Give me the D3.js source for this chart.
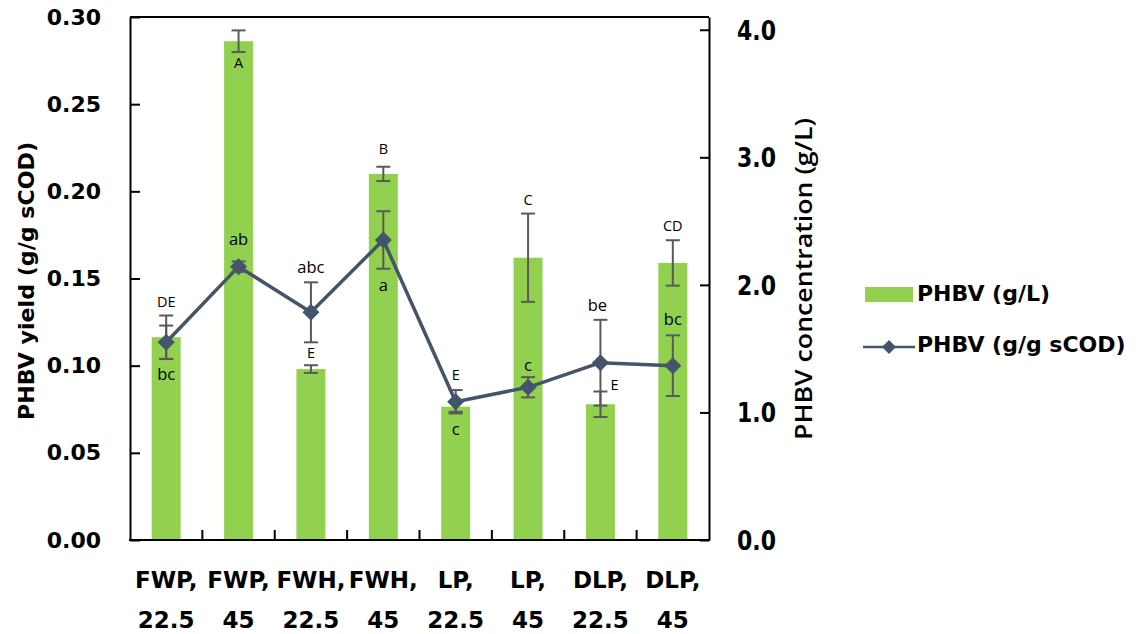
<!DOCTYPE html>
<html>
<head>
<meta charset="utf-8">
<script src="https://cdn.jsdelivr.net/npm/d3@7"></script>
<style>
  body { margin: 0; background: #fff; }
  svg text { fill: #000; }
</style>
</head>
<body>
<div id="chart"></div>
<script>
// categories and values
const categories = ['FWP, 22.5', 'FWP, 45', 'FWH, 22.5', 'FWH, 45', 'LP, 22.5', 'LP, 45', 'DLP, 22.5', 'DLP, 45'];
const concGL    = [1.59, 3.91, 1.34, 2.87, 1.045, 2.213, 1.064, 2.172];   // PHBV (g/L), right axis
const concErr   = [0.17, 0.085, 0.03, 0.056, 0.04, 0.346, 0.10, 0.178];
const yieldCOD  = [0.1134, 0.1568, 0.1306, 0.1721, 0.0793, 0.0876, 0.1017, 0.1000]; // PHBV (g/g sCOD), left axis
const yieldErr  = [0.0096, 0.003, 0.0172, 0.0165, 0.0067, 0.0058, 0.0246, 0.0174];
const barLetters  = ['DE', 'A', 'E', 'B', 'E', 'C', 'E', 'CD'];
const lineLetters = ['bc', 'ab', 'abc', 'a', 'c', 'c', 'be', 'bc'];
const leftTicks  = [0, 0.05, 0.10, 0.15, 0.20, 0.25, 0.30];
const rightTicks = [0, 1, 2, 3, 4];

// letter placement (pixels from the mark they belong to)
const barNoteOffset  = [[0, -35], [0, 22], [0, -16], [0, -25], [0, -32], [0, -58], [14, -19], [0, -37]];
const lineNoteOffset = [[0, 32], [0, -28], [0, -45], [0, 45], [0, 27], [0, -22], [-3, -58], [0, -47]];

const W = 1138, H = 634,
      plotL = 130, plotR = 709, plotT = 17, plotB = 540;

const GREEN = '#92D050', NAVY = '#44546A', GREY = '#595959';
const boldFont = "'DejaVu Sans', Verdana, sans-serif";
const noteFont = "'Open Sans', 'Liberation Sans', sans-serif";

const svg = d3.select('#chart').append('svg')
              .attr('width', W)
              .attr('height', H);

const x = d3.scaleBand().domain(categories).range([plotL, plotR]).paddingInner(0.6).paddingOuter(0.3);
const yL = d3.scaleLinear().domain([0, 0.30]).range([plotB, plotT]);
const yR = d3.scaleLinear().domain([0, 4.1]).range([plotB, plotT]);
const cx = i => x(categories[i]) + x.bandwidth() / 2;

// bars
svg.append('g').selectAll('rect')
   .data(concGL)
   .enter()
   .append('rect')
   .attr('x', (d, i) => x(categories[i]))
   .attr('y', d => yR(d))
   .attr('width', x.bandwidth())
   .attr('height', d => yR(0) - yR(d))
   .attr('fill', GREEN);

function errorBars(g, vals, errs, scale) {
  vals.forEach((v, i) => {
    const y1 = scale(v + errs[i]), y2 = scale(v - errs[i]), c = cx(i);
    g.append('line').attr('x1', c).attr('x2', c).attr('y1', y1).attr('y2', y2);
    g.append('line').attr('x1', c - 7).attr('x2', c + 7).attr('y1', y1).attr('y2', y1);
    g.append('line').attr('x1', c - 7).attr('x2', c + 7).attr('y1', y2).attr('y2', y2);
  });
}

errorBars(svg.append('g').attr('stroke', GREY).attr('stroke-width', 2), concGL, concErr, yR);

// line series
const line = d3.line().x((d, i) => cx(i)).y(d => yL(d));
svg.append('path')
   .datum(yieldCOD)
   .attr('d', line)
   .attr('fill', 'none')
   .attr('stroke', NAVY)
   .attr('stroke-width', 3.5)
   .attr('stroke-linejoin', 'round');

errorBars(svg.append('g').attr('stroke', GREY).attr('stroke-width', 2), yieldCOD, yieldErr, yL);

const diamond = r => `M0,${-r}L${r},0L0,${r}L${-r},0Z`;
svg.append('g').selectAll('path')
   .data(yieldCOD)
   .enter()
   .append('path')
   .attr('d', diamond(8.5))
   .attr('transform', (d, i) => 'translate(' + cx(i) + ',' + yL(d) + ')')
   .attr('fill', NAVY);

// significance letters
svg.append('g').selectAll('text')
   .data(barLetters)
   .enter()
   .append('text')
   .attr('x', (d, i) => cx(i) + barNoteOffset[i][0])
   .attr('y', (d, i) => yR(concGL[i]) + barNoteOffset[i][1])
   .attr('dy', '0.36em')
   .attr('text-anchor', 'middle')
   .style('font-family', noteFont)
   .style('font-size', '14.5px')
   .text(d => d);

svg.append('g').selectAll('text')
   .data(lineLetters)
   .enter()
   .append('text')
   .attr('x', (d, i) => cx(i) + lineNoteOffset[i][0])
   .attr('y', (d, i) => yL(yieldCOD[i]) + lineNoteOffset[i][1])
   .attr('dy', '0.36em')
   .attr('text-anchor', 'middle')
   .style('font-family', noteFont)
   .style('font-size', '16.5px')
   .text(d => d);

// axes
const axisL = svg.append('g')
                 .attr('transform', 'translate(' + plotL + ',0)')
                 .call(d3.axisLeft(yL).tickValues(leftTicks).tickFormat(d3.format('.2f'))
                         .tickSize(-10).tickSizeOuter(0).tickPadding(29));
const axisR = svg.append('g')
                 .attr('transform', 'translate(' + plotR + ',0)')
                 .call(d3.axisRight(yR).tickValues(rightTicks).tickFormat(d3.format('.1f'))
                         .tickSize(-9).tickSizeOuter(0).tickPadding(28));

[axisL, axisR].forEach(a => {
  a.selectAll('path, line').attr('stroke', '#000').attr('stroke-width', 2);
  a.selectAll('text')
   .style('font-family', boldFont)
   .style('font-weight', 'bold')
   .style('font-size', '22px');
});
// right labels sit a bit taller in the figure
axisR.selectAll('.tick text')
     .attr('transform', 'scale(1,1.18)')
     .attr('y', 0)
     .attr('dy', '0.36em');

// frame: top edge and x axis
svg.append('line').attr('x1', plotL).attr('x2', plotR).attr('y1', plotT).attr('y2', plotT)
   .attr('stroke', '#000').attr('stroke-width', 2);
svg.append('line').attr('x1', plotL - 1).attr('x2', plotR + 1).attr('y1', plotB).attr('y2', plotB)
   .attr('stroke', '#000').attr('stroke-width', 2);

const step = x.step();
svg.append('g').selectAll('line')
   .data(d3.range(1, categories.length))
   .enter()
   .append('line')
   .attr('x1', i => plotL + i * step)
   .attr('x2', i => plotL + i * step)
   .attr('y1', plotB)
   .attr('y2', plotB - 10)
   .attr('stroke', '#000')
   .attr('stroke-width', 2);

const xLabels = svg.append('g').selectAll('text')
                   .data(categories)
                   .enter()
                   .append('text')
                   .attr('text-anchor', 'middle')
                   .style('font-family', boldFont)
                   .style('font-weight', 'bold')
                   .style('font-size', '23px');
xLabels.append('tspan').attr('x', (d, i) => cx(i)).attr('y', 588).text(d => d.split(' ')[0]);
xLabels.append('tspan').attr('x', (d, i) => cx(i)).attr('y', 628).text(d => d.split(' ')[1]);

// axis titles
svg.append('text')
   .attr('transform', 'translate(34,281) rotate(-90)')
   .attr('text-anchor', 'middle')
   .attr('textLength', 278)
   .attr('lengthAdjust', 'spacingAndGlyphs')
   .style('font-family', boldFont)
   .style('font-weight', 'bold')
   .style('font-size', '21px')
   .text('PHBV yield (g/g sCOD)');

svg.append('text')
   .attr('transform', 'translate(812,279) rotate(-90)')
   .attr('text-anchor', 'middle')
   .attr('textLength', 322)
   .attr('lengthAdjust', 'spacingAndGlyphs')
   .style('font-family', noteFont)
   .style('font-weight', 600)
   .style('font-size', '23px')
   .text('PHBV concentration (g/L)');

// legend
const legend = svg.append('g');
legend.append('rect').attr('x', 865).attr('y', 287).attr('width', 48).attr('height', 15).attr('fill', GREEN);
legend.append('line').attr('x1', 863).attr('x2', 915).attr('y1', 347).attr('y2', 347)
      .attr('stroke', NAVY).attr('stroke-width', 2.5);
legend.append('path').attr('d', diamond(7)).attr('transform', 'translate(889,347)').attr('fill', NAVY);
legend.selectAll('text')
      .data([['PHBV (g/L)', 301], ['PHBV (g/g sCOD)', 352]])
      .enter()
      .append('text')
      .attr('x', 917)
      .attr('y', d => d[1])
      .style('font-family', boldFont)
      .style('font-weight', 'bold')
      .style('font-size', '22px')
      .text(d => d[0]);
</script>
</body>
</html>
